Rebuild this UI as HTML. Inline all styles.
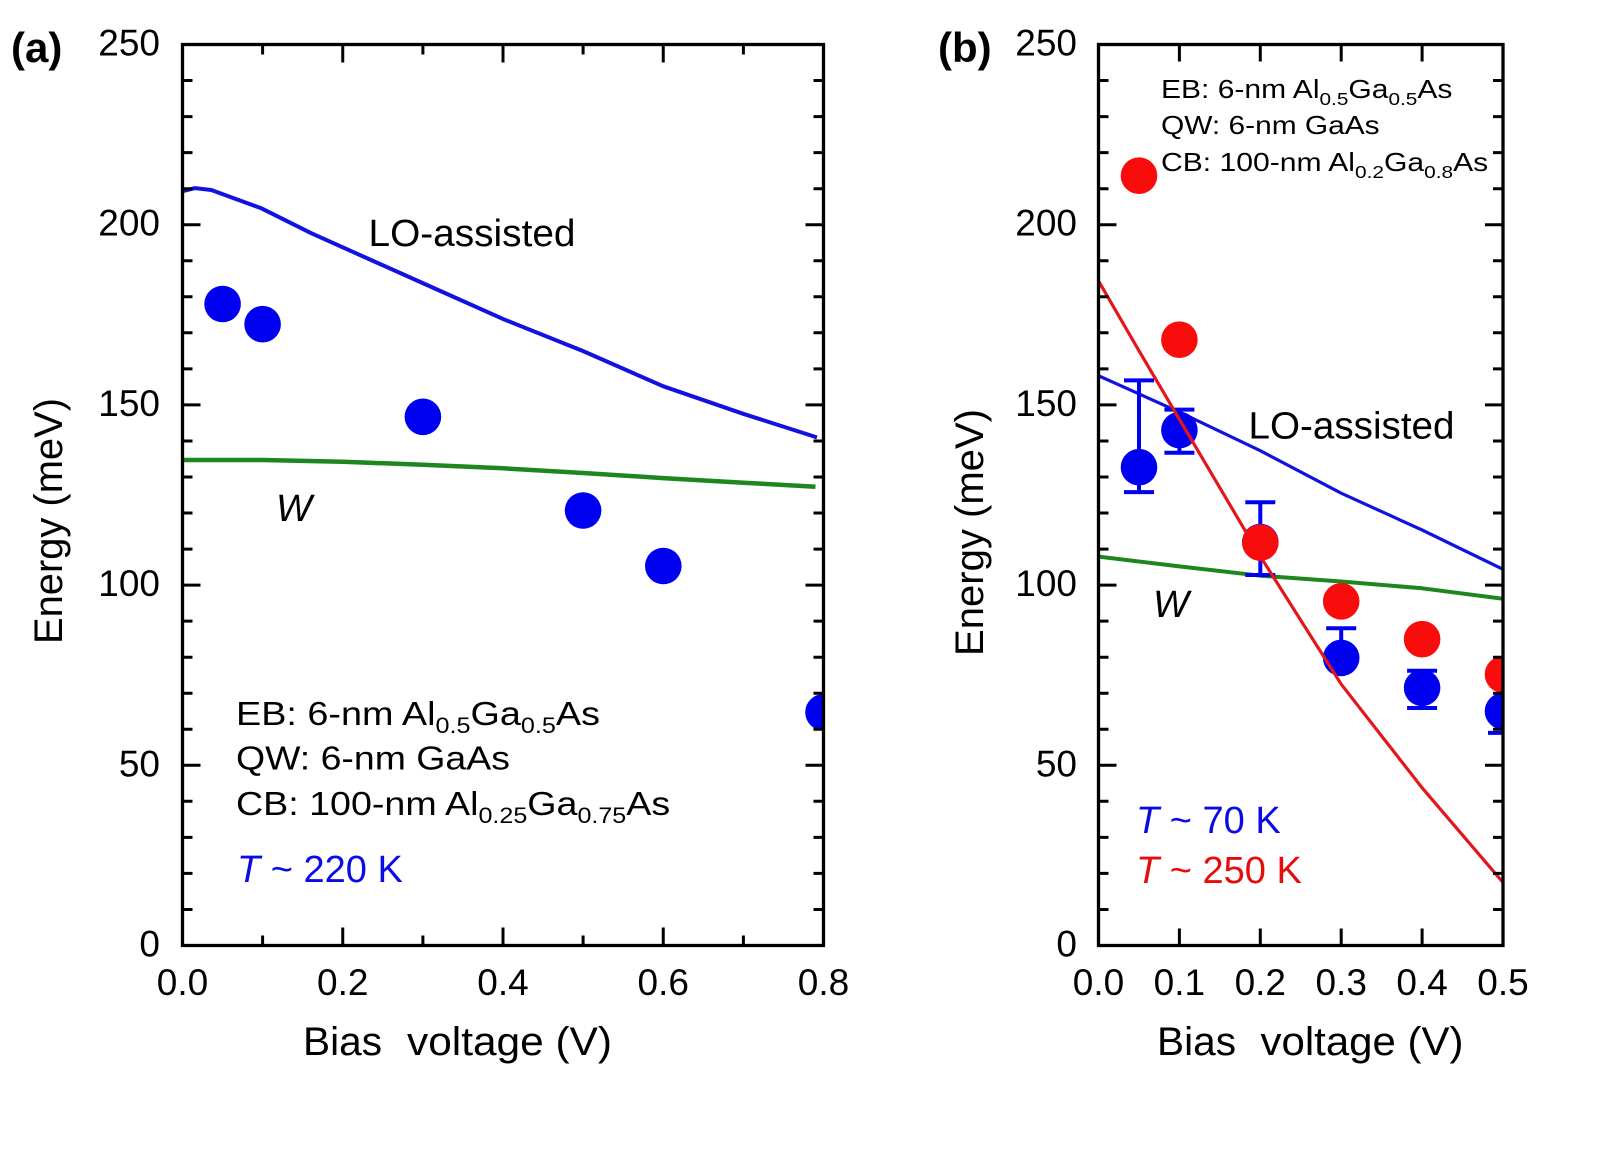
<!DOCTYPE html>
<html><head><meta charset="utf-8"><style>
html,body{margin:0;padding:0;background:#fff;}
svg{display:block;}
text{font-family:"Liberation Sans",Arial,sans-serif;}
</style></head><body>
<svg width="1608" height="1164" viewBox="0 0 1608 1164" xmlns="http://www.w3.org/2000/svg">
<defs>
<clipPath id="ca"><rect x="182.5" y="44.5" width="641" height="901"/></clipPath>
<clipPath id="cb"><rect x="1098.5" y="44.5" width="404.5" height="901"/></clipPath>
<g id="yt" stroke="#000" stroke-width="3" fill="none">
<path d="M0 909.5h10M0 873.4h10M0 837.4h10M0 801.3h10M0 729.3h10M0 693.2h10M0 657.2h10M0 621.1h10M0 549.1h10M0 513h10M0 477h10M0 441h10M0 368.9h10M0 332.8h10M0 296.8h10M0 260.7h10M0 188.7h10M0 152.6h10M0 116.6h10M0 80.5h10"/>
<path d="M0 765.3h18M0 585.1h18M0 404.9h18M0 224.7h18"/>
</g>
</defs>
<rect width="1608" height="1164" fill="#fff"/>

<!-- ============ PANEL A ============ -->
<g clip-path="url(#ca)">
<polyline fill="none" stroke="#1212e0" stroke-width="4" stroke-linejoin="round" points="182.6,191.2 195,188.1 211.3,190 261.6,208.4 311.5,233.3 371,260 422.5,283 503.8,319.3 582.9,351 663,386.2 743.2,413.8 812.6,436 817,437.5"/>
<polyline fill="none" stroke="#1e861e" stroke-width="4.5" stroke-linejoin="round" points="182.5,460 262.6,460 342.7,461.8 422.9,464.7 503,468.3 583.1,473 663.3,478.1 743.4,482.7 815.5,486.7"/>
<g fill="#0000f0">
<circle cx="222.6" cy="304" r="18.3"/>
<circle cx="262.6" cy="324.2" r="18.3"/>
<circle cx="422.9" cy="416.8" r="18.3"/>
<circle cx="583.1" cy="510.5" r="18.3"/>
<circle cx="663.3" cy="566" r="18.3"/>
<circle cx="823.5" cy="712.3" r="18.3"/>
</g>
</g>
<rect x="182.5" y="44.5" width="641" height="901" fill="none" stroke="#000" stroke-width="3.3"/>
<use href="#yt" transform="translate(182.5,0)"/>
<use href="#yt" transform="translate(823.5,0) scale(-1,1)"/>
<g stroke="#000" stroke-width="3" fill="none">
<path d="M262.6 945.5v-10M422.9 945.5v-10M583.1 945.5v-10M743.4 945.5v-10M342.75 945.5v-18M503 945.5v-18M663.25 945.5v-18"/>
<path d="M262.6 44.5v10M422.9 44.5v10M583.1 44.5v10M743.4 44.5v10M342.75 44.5v18M503 44.5v18M663.25 44.5v18"/>
</g>
<g font-size="37" text-anchor="end" fill="#000">
<text x="160" y="55.5">250</text>
<text x="160" y="235.7">200</text>
<text x="160" y="415.9">150</text>
<text x="160" y="596.1">100</text>
<text x="160" y="776.3">50</text>
<text x="160" y="956.5">0</text>
</g>
<g font-size="37" text-anchor="middle" fill="#000">
<text x="182.5" y="995">0.0</text>
<text x="342.75" y="995">0.2</text>
<text x="503" y="995">0.4</text>
<text x="663.25" y="995">0.6</text>
<text x="823.5" y="995">0.8</text>
</g>
<text x="11" y="62" font-size="42" font-weight="bold">(a)</text>
<text x="303" y="1055" font-size="40" textLength="79" lengthAdjust="spacingAndGlyphs">Bias</text>
<text x="407" y="1055" font-size="40" textLength="205" lengthAdjust="spacingAndGlyphs">voltage (V)</text>
<text transform="translate(62,521) rotate(-90)" text-anchor="middle" font-size="40" textLength="246" lengthAdjust="spacingAndGlyphs">Energy (meV)</text>
<text x="368.5" y="246" font-size="38" textLength="207" lengthAdjust="spacingAndGlyphs">LO-assisted</text>
<text x="276" y="521" font-size="38" font-style="italic">W</text>
<g font-size="33" fill="#000">
<text transform="translate(236,725) scale(1.145,1)">EB: 6-nm Al<tspan font-size="22" dy="8">0.5</tspan><tspan dy="-8">Ga</tspan><tspan font-size="22" dy="8">0.5</tspan><tspan dy="-8">As</tspan></text>
<text transform="translate(236,769.5) scale(1.135,1)">QW: 6-nm GaAs</text>
<text transform="translate(236,815) scale(1.14,1)">CB: 100-nm Al<tspan font-size="22" dy="8">0.25</tspan><tspan dy="-8">Ga</tspan><tspan font-size="22" dy="8">0.75</tspan><tspan dy="-8">As</tspan></text>
</g>
<text x="237" y="882" font-size="38" fill="#0a0ae6"><tspan font-style="italic">T</tspan> ~ 220 K</text>

<!-- ============ PANEL B ============ -->
<g clip-path="url(#cb)">
<polyline fill="none" stroke="#1212e0" stroke-width="3.2" stroke-linejoin="round" points="1098.5,375.7 1179.4,412.1 1260.3,450.7 1341.2,493.2 1422.1,530 1503,569.3"/>
<polyline fill="none" stroke="#1e861e" stroke-width="4" stroke-linejoin="round" points="1098.5,556.6 1179.4,566.4 1260.3,575.7 1341.2,581.5 1422.1,588.3 1503,598.8"/>
<g stroke="#0000f0" stroke-width="4" fill="none">
<path d="M1139 380.4V492.1M1124 380.4h30M1124 492.1h30"/>
<path d="M1179.4 409.6V452.8M1164.4 409.6h30M1164.4 452.8h30"/>
<path d="M1260.3 502.2V575M1245.3 502.2h30M1245.3 575h30"/>
<path d="M1341.2 628.3V658M1326.2 628.3h30"/>
<path d="M1422.1 670.7V708M1407.1 670.7h30M1407.1 708h30"/>
<path d="M1503 711V732.9M1488 732.9h30"/>
</g>
<g fill="#0000f0">
<circle cx="1139" cy="467.2" r="18.3"/>
<circle cx="1179.4" cy="430.1" r="18.3"/>
<circle cx="1260.3" cy="542" r="18.3"/>
<circle cx="1341.2" cy="657.9" r="18.3"/>
<circle cx="1422.1" cy="687.8" r="18.3"/>
<circle cx="1503" cy="711.2" r="18.3"/>
</g>
<polyline fill="none" stroke="#e3161c" stroke-width="3.2" stroke-linejoin="round" points="1098.5,280.9 1139,350.8 1179.4,419.3 1260.3,556.3 1341.2,684.2 1381.7,736.1 1422.1,787.8 1503,882.4"/>
<g fill="#f80c0c">
<circle cx="1139" cy="175.7" r="18.3"/>
<circle cx="1179.4" cy="339.7" r="18.3"/>
<circle cx="1260.3" cy="542.6" r="18.3"/>
<circle cx="1341.2" cy="601.3" r="18.3"/>
<circle cx="1422.1" cy="639.2" r="18.3"/>
<circle cx="1503" cy="674.5" r="18.3"/>
</g>
</g>
<rect x="1098.5" y="44.5" width="404.5" height="901" fill="none" stroke="#000" stroke-width="3.3"/>
<use href="#yt" transform="translate(1098.5,0)"/>
<use href="#yt" transform="translate(1503,0) scale(-1,1)"/>
<g stroke="#000" stroke-width="3" fill="none">
<path d="M1179.4 945.5v-17M1260.3 945.5v-17M1341.2 945.5v-17M1422.1 945.5v-17"/>
<path d="M1179.4 44.5v17M1260.3 44.5v17M1341.2 44.5v17M1422.1 44.5v17"/>
</g>
<g font-size="37" text-anchor="end" fill="#000">
<text x="1077" y="55.5">250</text>
<text x="1077" y="235.7">200</text>
<text x="1077" y="415.9">150</text>
<text x="1077" y="596.1">100</text>
<text x="1077" y="776.3">50</text>
<text x="1077" y="956.5">0</text>
</g>
<g font-size="37" text-anchor="middle" fill="#000">
<text x="1098.5" y="995">0.0</text>
<text x="1179.4" y="995">0.1</text>
<text x="1260.3" y="995">0.2</text>
<text x="1341.2" y="995">0.3</text>
<text x="1422.1" y="995">0.4</text>
<text x="1503" y="995">0.5</text>
</g>
<text x="938" y="62" font-size="42" font-weight="bold">(b)</text>
<text x="1157" y="1055" font-size="40" textLength="79" lengthAdjust="spacingAndGlyphs">Bias</text>
<text x="1260.5" y="1055" font-size="40" textLength="203" lengthAdjust="spacingAndGlyphs">voltage (V)</text>
<text transform="translate(983,532.5) rotate(-90)" text-anchor="middle" font-size="40" textLength="247" lengthAdjust="spacingAndGlyphs">Energy (meV)</text>
<text x="1248.5" y="438.5" font-size="38" textLength="206" lengthAdjust="spacingAndGlyphs">LO-assisted</text>
<text x="1153" y="617" font-size="38" font-style="italic">W</text>
<g font-size="26" fill="#000">
<text transform="translate(1161,98) scale(1.155,1)">EB: 6-nm Al<tspan font-size="18" dy="7">0.5</tspan><tspan dy="-7">Ga</tspan><tspan font-size="18" dy="7">0.5</tspan><tspan dy="-7">As</tspan></text>
<text transform="translate(1161,134) scale(1.15,1)">QW: 6-nm GaAs</text>
<text transform="translate(1161,171) scale(1.158,1)">CB: 100-nm Al<tspan font-size="18" dy="7">0.2</tspan><tspan dy="-7">Ga</tspan><tspan font-size="18" dy="7">0.8</tspan><tspan dy="-7">As</tspan></text>
</g>
<text x="1136" y="833" font-size="38" fill="#0a0ae6"><tspan font-style="italic">T</tspan> ~ 70 K</text>
<text x="1136" y="883" font-size="38" fill="#e60c0c"><tspan font-style="italic">T</tspan> ~ 250 K</text>
</svg>
</body></html>
